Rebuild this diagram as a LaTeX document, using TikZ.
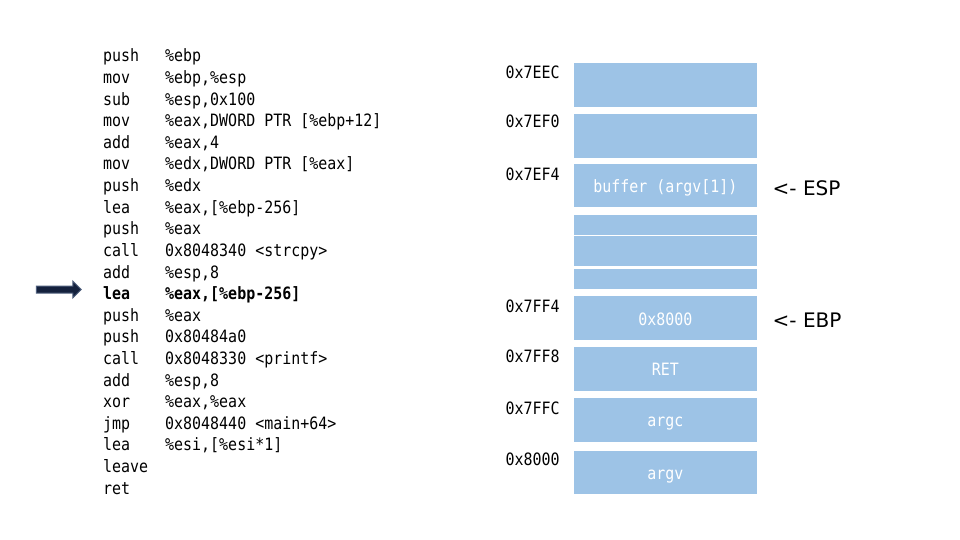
\documentclass[tikz,border=0pt]{standalone}
\usepackage{fontspec}
\usetikzlibrary{shapes.arrows}
\newfontfamily\codefont[FakeStretch=0.88]{DejaVu Sans Mono}
\newfontfamily\ptrfont{DejaVu Sans}
\definecolor{boxblue}{HTML}{9DC3E6}
\definecolor{arrowfill}{HTML}{14213D}
\definecolor{arrowedge}{HTML}{50607E}
\tikzset{
  code/.style={anchor=base west, inner sep=0pt, font=\codefont\fontsize{17}{20}\selectfont},
  addr/.style={anchor=base west, inner sep=0pt, font=\codefont\fontsize{17}{20}\selectfont},
  stackbox/.style={fill=boxblue, draw=none, minimum width=182.7, inner sep=0pt,
    text=white, text height=17pt, text depth=3pt, font=\codefont\fontsize{17}{20}\selectfont},
  ptr/.style={anchor=base west, inner sep=0pt, font=\ptrfont\fontsize{20}{24}\selectfont},
}
\begin{document}
\begin{tikzpicture}[x=1pt,y=-1pt]
\useasboundingbox (0,0) rectangle (960,540);
% code listing
\foreach \i/\m/\o in {
  1/push/\%ebp,
  2/mov/{\%ebp,\%esp},
  3/sub/{\%esp,0x100},
  4/mov/{\%eax,DWORD PTR [\%ebp+12]},
  5/add/{\%eax,4},
  6/mov/{\%edx,DWORD PTR [\%eax]},
  7/push/\%edx,
  8/lea/{\%eax,[\%ebp-256]},
  9/push/\%eax,
  10/call/{0x8048340 <strcpy>},
  11/add/{\%esp,8},
  13/push/\%eax,
  14/push/0x80484a0,
  15/call/{0x8048330 <printf>},
  16/add/{\%esp,8},
  17/xor/{\%eax,\%eax},
  18/jmp/{0x8048440 <main+64>},
  19/lea/{\%esi,[\%esi*1]}}{
  \node[code] (m\i) at (103,{62+(\i-1)*21.6}) {\m};
  \node[code] (o\i) at (165,{62+(\i-1)*21.6}) {\o};
}
\node[code] (m12) at (103,{62+11*21.6}) {\bfseries lea};
\node[code] (o12) at (165,{62+11*21.6}) {\bfseries\%eax,[\%ebp-256]};
\node[code] (m20) at (103,{62+19*21.6}) {leave};
\node[code] (m21) at (103,{62+20*21.6}) {ret};
% current instruction arrow
\node[single arrow, fill=arrowfill, draw=arrowedge, line width=1pt,
      minimum height=45, minimum width=16, inner sep=3pt,
      single arrow head extend=5pt] (cur) at (57,289.5) {};
% stack boxes
\node[stackbox, minimum height=43.4] (b1) at (665.3,85) {};
\node[stackbox, minimum height=43.7] (b2) at (665.3,135.85) {};
\node[stackbox, minimum height=43] (b3) at (665.3,185.8) {buffer (argv[1])};
\node[stackbox, minimum height=16] (b4) at (665.3,224.7) {};
\node[stackbox, minimum height=11, text height=0pt, text depth=0pt] (b5) at (665.3,241.2) {};
\node[stackbox, minimum height=16.6] (b6) at (665.3,256) {};
\node[stackbox, minimum height=15.7] (b7) at (665.3,278.85) {};
\node[stackbox, minimum height=44] (b8) at (665.3,318) {0x8000};
\node[stackbox, minimum height=44] (b9) at (665.3,368.7) {RET};
\node[stackbox, minimum height=44] (b10) at (665.3,419.7) {argc};
\node[stackbox, minimum height=43.3] (b11) at (665.3,472.65) {argv};
% addresses
\node[addr] (a1) at (505.5,79) {0x7EEC};
\node[addr] (a2) at (505.5,128) {0x7EF0};
\node[addr] (a3) at (505.5,180.7) {0x7EF4};
\node[addr] (a8) at (505.5,312.3) {0x7FF4};
\node[addr] (a9) at (505.5,362.7) {0x7FF8};
\node[addr] (a10) at (505.5,414) {0x7FFC};
\node[addr] (a11) at (505.5,465) {0x8000};
% pointers
\node[ptr] (esp) at (772.5,195.7) {<- ESP};
\node[ptr] (ebp) at (772.5,327.3) {<- EBP};
\end{tikzpicture}
\end{document}
